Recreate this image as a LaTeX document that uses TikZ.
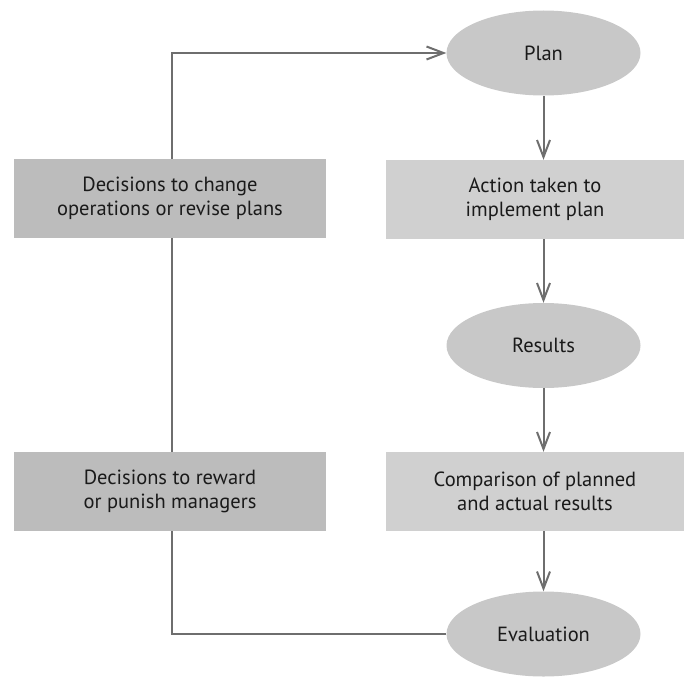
\documentclass[tikz,border=0pt]{standalone}
\usepackage{fontspec}
\setmainfont{PT Sans}
\usetikzlibrary{arrows.meta,shapes.geometric}
\definecolor{linec}{HTML}{6E6E6E}
\definecolor{ellc}{HTML}{C8C8C8}
\definecolor{lboxc}{HTML}{BCBCBC}
\definecolor{rboxc}{HTML}{D0D0D0}
\definecolor{txtc}{HTML}{1A1A1A}
\begin{document}
\begin{tikzpicture}[x=1pt,y=-1pt,
  lbl/.style={text=txtc, font=\fontsize{20.5}{23.5}\selectfont, align=center, inner sep=0pt},
  ell/.style={lbl, ellipse, fill=ellc, minimum width=194pt, minimum height=85pt},
  lbox/.style={lbl, rectangle, fill=lboxc, minimum width=312pt, minimum height=79pt},
  rbox/.style={lbl, rectangle, fill=rboxc, minimum width=298pt, minimum height=79pt},
  conn/.style={draw=linec, line width=2pt},
  arr/.style={conn, -{Straight Barb[length=17pt,width=13pt,line width=2pt]}}
]
\useasboundingbox (0,0) rectangle (684,677);
\node[ell] (plan) at (543.5,53) {Plan};
\node[rbox] (action) at (535,199.5) {Action taken to\\implement plan};
\node[ell] (results) at (543.5,345.5) {Results};
\node[rbox] (comp) at (535,491.5) {Comparison of planned\\and actual results};
\node[ell] (eval) at (543.5,634) {Evaluation};
\node[lbox] (left1) at (170,198.5) {Decisions to change\\operations or revise plans};
\node[lbox] (left2) at (170,491.5) {Decisions to reward\\or punish managers};
\coordinate (lx) at (172,0);
\draw[arr] (plan.south) -- (plan.south |- action.north);
\draw[arr] (plan.south |- action.south) -- (results.north);
\draw[arr] (results.south) -- (results.south |- comp.north);
\draw[arr] (results.south |- comp.south) -- (eval.north);
\draw[conn] (eval.west) -| (lx |- left2.south);
\draw[conn] (lx |- left2.north) -- (lx |- left1.south);
\draw[arr] (lx |- left1.north) |- (plan.west);
\end{tikzpicture}
\end{document}
